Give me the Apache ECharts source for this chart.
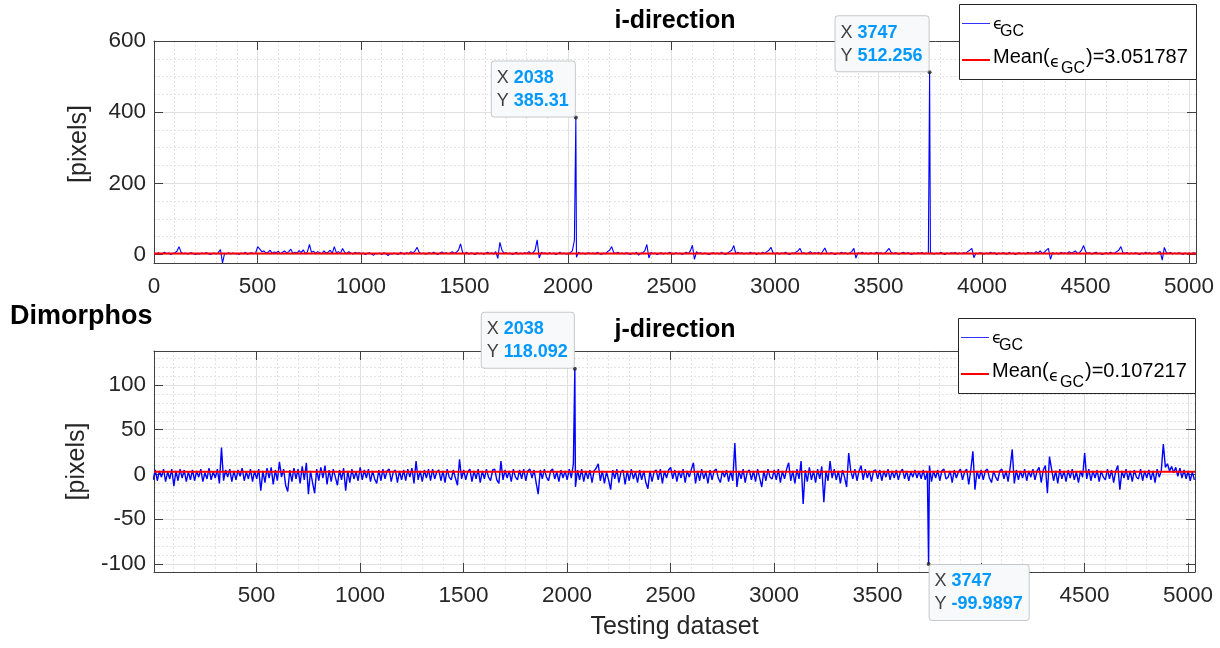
<!DOCTYPE html>
<html>
<head>
<meta charset="utf-8">
<script src="https://cdn.jsdelivr.net/npm/echarts@6/dist/echarts.min.js"></script>
<style>html,body{margin:0;padding:0;background:#fff}#c{width:1220px;height:648px}</style>
</head>
<body>
<div id="c"></div>
<script>
// ---- data ----
// samples are shown every 10th index, starting at 1
const sampleStart = 1;
const sampleStep = 10;

// i-direction error samples (pixels)
const iValues = [
  4,2,5,1,3,6,2,4,0,3, 5,9,22,6,2,4,1,3,5,2, 0,3,1,4,2,5,3,0,2,4, 1,6,14,-24,3,2,5,1,4,2, 3,0,4,2,6,1,3,5,2,4,
  22,15,8,10,4,6,12,3,7,5, 9,2,6,10,4,8,15,3,6,4, 11,5,13,2,7,28,6,9,3,8, 5,2,10,4,6,12,3,22,5,8, 3,17,6,2,8,4,1,6,3,5,
  2,4,0,3,5,1,-2,3,2,4, 0,5,2,-3,3,1,4,2,0,6, 3,1,5,2,8,4,10,20,6,2, 4,1,3,5,2,6,3,0,4,7, 3,5,2,4,8,3,6,12,30,5,
  2,6,1,4,3,0,5,2,4,1, 3,6,2,5,1,8,-11,34,12,3, 5,2,4,0,3,6,1,4,2,5, 3,8,2,5,12,41,-10,6,3,4, 1,5,2,4,0,3,6,2,4,1,
  3,5,10,40,-8,6,2,4,1,3, 5,2,4,1,6,3,0,4,2,8, 12,22,5,3,6,2,4,1,5,3, 0,4,2,6,-2,3,5,10,28,-10, 6,2,4,0,3,5,1,4,2,6,
  3,1,5,2,4,0,3,6,2,10, 26,-14,8,3,5,1,4,2,0,3, 5,2,4,1,6,3,0,4,8,12, 25,2,6,3,5,1,4,2,6,3, 5,0,4,2,6,3,8,12,20,4,
  2,5,1,4,3,6,2,0,4,3, 6,10,17,3,5,1,4,8,2,5, 3,6,1,9,18,4,2,5,3,0, 4,2,6,3,5,1,4,8,17,-10, 5,3,6,2,4,1,5,3,2,6,
  3,5,2,4,10,17,6,2,5,3, 1,4,6,2,5,3,0,4,2,5, 3,6,1,4,2,5,3,1,4,2, 6,3,0,4,2,5,3,6,1,4, 2,5,3,8,12,17,-9,4,2,5,
  3,1,4,2,6,3,5,0,4,2, 5,3,1,6,2,4,0,3,5,2, 4,1,6,3,5,2,8,4,10,3, 6,12,17,-14,5,2,4,1,6,3, 5,2,8,4,6,10,3,5,12,25,
  8,3,5,1,4,6,2,4,0,3, 5,2,6,3,4,8,12,22,5,3, 6,1,4,2,5,3,0,4,2,6, 3,5,1,4,2,6,8,-16,20,5, 3,6,1,4,2,5,3,0,4,2,
  4,1,5,3
];

// j-direction error samples (pixels)
const jValues = [
  -6,5,-7,4,-3,6,-8,3,-5,6, -13,4,-7,6,-4,5,-8,3,-6,5, -7,4,-3,6,-8,2,-5,7,-6,3, -4,6,-10,30,-7,5,-3,6,-8,4, -6,5,-2,7,-7,3,-5,6,-8,4,
  -5,6,-18,4,-9,7,-4,8,-11,5, -7,14,-3,6,-12,-19,5,-8,7,-5, 6,-10,9,-6,13,-22,4,-9,-21,6, -7,8,-4,10,-11,5,-8,6,-3,-12, 5,-6,7,-18,4,-9,6,-5,3,-7,
  8,-6,5,-4,6,-8,4,-5,-10,5, -7,6,-5,4,6,-8,3,5,-9,4, -6,5,-7,6,-3,7,-10,15,-6,4, -8,5,-4,6,-7,6,-5,3,5,-7, 4,-9,6,-3,-6,5,-4,-12,17,-5,
  5,-6,3,6,-8,4,-5,6,-9,4, -5,6,-3,-7,5,6,-6,-10,15,-6, 5,-4,4,-8,6,-3,-6,5,-5,6, -7,4,6,-4,5,-9,-22,5,-5,6, -3,-7,4,6,-5,3,-8,5,-4,4,
  -6,6,-4,12,-14,5,-6,6,-8,4, -5,5,-9,4,7,12,-7,4,-10,3, -6,-17,5,-5,6,-9,3,5,-11,4, -7,6,-5,3,-9,5,-6,4,-9,-16, 4,-8,3,5,-6,6,-10,4,-4,5,
  8,-5,5,-8,4,-4,6,-9,4,-3, 6,13,-10,4,-7,6,-5,3,-10,5, -6,4,6,-4,-9,4,-3,5,-8,4, -7,35,-14,4,-5,6,-9,3,5,-6, 4,-8,6,-4,-14,4,-7,6,-3,-5,
  5,-6,6,-9,4,-5,6,13,-7,4, -10,6,-5,15,-33,5,-8,8,-6,4, -9,6,-5,9,-31,4,-7,15,-4,6, -6,4,-10,5,-3,-14,24,4,-5,6, -7,4,10,-6,6,-4,4,-8,4,5,
  -5,5,-7,4,-3,6,-6,4,-4,5, -6,3,6,-5,4,-7,3,-3,5,-4, 4,-5,5,-6,3,10,-8,4,-4,5, -7,4,6,-5,-3,4,-9,5,-4,3, 6,-6,3,6,-11,5,26,-17,4,-5,
  5,-6,4,6,-4,-9,4,-3,-7,4, 6,-5,4,-8,8,28,-10,5,-6,4, -4,6,-7,4,-3,6,-6,4,8,-9, 5,10,-21,20,6,-7,4,-10,6,-5, 4,-8,5,-4,6,-6,3,-9,4,-3,
  24,-5,6,-7,4,-4,5,-8,4,-3, -6,6,-5,5,-9,4,10,-17,4,-4, 6,-6,4,-8,5,-3,-5,6,-7,4, -4,5,-6,4,-9,6,-3,4,34,8, 12,4,9,2,8,-2,7,-4,5,-5,
  4,-7,3,-6
];

// marked samples (data tips)
const peakX = [2038, 3747];
const iPeakY = [385.31, 512.256];
const jPeakY = [118.092, -99.9897];

// means shown in the legends
const iMean = 3.051787;
const jMean = 0.107217;
// level at which the red line is drawn in the lower panel (as seen in the picture)
const jMeanLineLevel = 3.051787;

// axis ranges
const topX = [0, 5034], topY = [-24, 600];
const botX = [5, 5034], botY = [-109, 138];

// ---- build ----
function build(vals, peaks) {
  const pts = vals.map((v, i) => [sampleStart + i * sampleStep, v]);
  peakX.forEach((x, k) => pts.push([x, peaks[k]]));
  pts.sort((a, b) => a[0] - b[0]);
  return pts;
}
const iData = build(iValues, iPeakY);
const jData = build(jValues, jPeakY);

const FONT = "'Liberation Sans', Arial, Helvetica, sans-serif";
const EPSFONT = "'DejaVu Sans', 'Noto Sans', sans-serif";
const AX = '#404040', TXT = '#262626', GRID = '#e0e0e0', MINOR = '#e3e3e3';

function xA(grid, rng, pos, main, showMin, name) {
  return {
    type: 'value', gridIndex: grid, min: rng[0], max: rng[1], position: pos,
    minInterval: 500, maxInterval: 500, splitNumber: 10, z: 0,
    axisLine: { show: true, onZero: false, lineStyle: { color: AX, width: 1 } },
    axisTick: { show: true, inside: true, length: 9, lineStyle: { color: AX } },
    axisLabel: { show: main, fontSize: 22.5, color: TXT, fontFamily: FONT, margin: 12,
      showMinLabel: showMin, showMaxLabel: false, formatter: v => String(v) },
    splitLine: { show: main, lineStyle: { color: GRID, width: 1 } },
    minorTick: { show: false, splitNumber: 5 },
    minorSplitLine: { show: main, lineStyle: { color: MINOR, width: 1, type: [2, 2] } },
    name: name || '', nameLocation: 'middle', nameGap: 43,
    nameTextStyle: { fontSize: 25, color: TXT, fontFamily: FONT }
  };
}
function yA(grid, rng, pos, main, step, minorN, showMax, name, gap, pad) {
  return {
    type: 'value', gridIndex: grid, min: rng[0], max: rng[1], position: pos,
    minInterval: step, maxInterval: step, splitNumber: 4, z: 0,
    axisLine: { show: true, onZero: false, lineStyle: { color: AX, width: 1 } },
    axisTick: { show: true, inside: true, length: 9, lineStyle: { color: AX } },
    axisLabel: { show: main, fontSize: 22.5, color: TXT, fontFamily: FONT, margin: 8,
      showMinLabel: false, showMaxLabel: showMax, formatter: v => String(v) },
    splitLine: { show: main, lineStyle: { color: GRID, width: 1 } },
    minorTick: { show: false, splitNumber: minorN },
    minorSplitLine: { show: main, lineStyle: { color: MINOR, width: 1, type: [2, 2] } },
    name: name || '', nameLocation: 'middle', nameGap: gap || 60,
    nameTextStyle: { fontSize: 25, color: TXT, fontFamily: FONT, padding: pad || 0 }
  };
}

function txt(x, y, s, size, fam, weight) {
  return { type: 'text', z: 102, x, y, style: { text: s, fill: '#000', fontSize: size,
    fontFamily: fam || FONT, fontWeight: weight || 'normal', align: 'left', verticalAlign: 'middle' } };
}
function legendEls(x0, y0, meanText) {
  return [
    { type: 'rect', z: 100, shape: { x: x0 + 0.5, y: y0 + 0.5, width: 237, height: 75 },
      style: { fill: '#fff', stroke: '#262626', lineWidth: 1 } },
    { type: 'line', z: 101, shape: { x1: x0 + 3, y1: y0 + 19.5, x2: x0 + 31, y2: y0 + 19.5 },
      style: { stroke: '#3333ff', lineWidth: 1 } },
    { type: 'line', z: 101, shape: { x1: x0 + 3, y1: y0 + 56, x2: x0 + 31, y2: y0 + 56 },
      style: { stroke: '#ff0000', lineWidth: 2 } },
    txt(x0 + 34, y0 + 21, 'ϵ', 16, EPSFONT),
    txt(x0 + 41, y0 + 28, 'GC', 16),
    txt(x0 + 34, y0 + 53, 'Mean(', 20),
    txt(x0 + 91, y0 + 59, 'ϵ', 16, EPSFONT),
    txt(x0 + 102, y0 + 65, 'GC', 16),
    txt(x0 + 127, y0 + 53, ')=' + meanText, 20)
  ];
}
function title(x, y, s, size, align) {
  return { type: 'text', z: 102, x, y, style: { text: s, fill: '#000', fontSize: size,
    fontFamily: FONT, fontWeight: 'bold', align: align || 'center', verticalAlign: 'middle' } };
}

const chart = echarts.init(document.getElementById('c'));
chart.setOption({
  animation: false,
  backgroundColor: '#ffffff',
  grid: [
    { left: 154, top: 41, width: 1042, height: 222, containLabel: false },
    { left: 154, top: 351, width: 1041, height: 221, containLabel: false }
  ],
  xAxis: [
    xA(0, topX, 'bottom', true, true),
    xA(0, topX, 'top', false, false),
    xA(1, botX, 'bottom', true, false, 'Testing dataset'),
    xA(1, botX, 'top', false, false)
  ],
  yAxis: [
    yA(0, topY, 'left', true, 200, 4, true, '[pixels]', 62, [0, 0, 0, 16]),
    yA(0, topY, 'right', false, 200, 4, false),
    yA(1, botY, 'left', true, 50, 5, false, '[pixels]', 57),
    yA(1, botY, 'right', false, 50, 5, false)
  ],
  series: [
    { type: 'line', xAxisIndex: 0, yAxisIndex: 0, data: iData, symbol: 'none', showSymbol: false,
      lineStyle: { color: '#0000ff', width: 1.1 }, itemStyle: { color: '#0000ff' }, z: 2, silent: true },
    { type: 'line', xAxisIndex: 0, yAxisIndex: 0, data: [[topX[0], iMean], [topX[1], iMean]], symbol: 'none',
      lineStyle: { color: '#ff0000', width: 2 }, itemStyle: { color: '#ff0000' }, z: 3, silent: true },
    { type: 'scatter', xAxisIndex: 0, yAxisIndex: 0, symbolSize: 4, itemStyle: { color: '#222' }, z: 10,
      data: peakX.map((x, k) => [x, iPeakY[k]]) },

    { type: 'line', xAxisIndex: 2, yAxisIndex: 2, data: jData, symbol: 'none', showSymbol: false,
      lineStyle: { color: '#0000ff', width: 1.4 }, itemStyle: { color: '#0000ff' }, z: 2, silent: true },
    { type: 'line', xAxisIndex: 2, yAxisIndex: 2, data: [[botX[0], jMeanLineLevel], [botX[1], jMeanLineLevel]], symbol: 'none',
      lineStyle: { color: '#ff0000', width: 2 }, itemStyle: { color: '#ff0000' }, z: 3, silent: true },
    { type: 'scatter', xAxisIndex: 2, yAxisIndex: 2, symbolSize: 4, itemStyle: { color: '#222' }, z: 10,
      data: peakX.map((x, k) => [x, jPeakY[k]]) }
  ]
});

// data tips, anchored at the marked points through the chart's own scales
function tipEl(seriesIndex, x, y, dir) {
  const p = chart.convertToPixel({ seriesIndex }, [x, y]);
  const ul = dir === 'ul';
  return {
    type: 'text', z: 120,
    x: ul ? p[0] - 1 : p[0] + 1, y: ul ? p[1] - 1 : p[1] + 1,
    style: {
      text: `{k|X }{v|${x}}\n{k|Y }{v|${y}}`,
      align: ul ? 'right' : 'left', verticalAlign: ul ? 'bottom' : 'top',
      backgroundColor: '#f8f9fb', borderColor: '#c8c8c8', borderWidth: 1, borderRadius: 3,
      padding: [5, 6, 4, 5], lineHeight: 23,
      rich: {
        k: { fontSize: 18, fill: '#404040', fontFamily: FONT, lineHeight: 23, align: 'left' },
        v: { fontSize: 18, fontWeight: 'bold', fill: '#0099ff', fontFamily: FONT, lineHeight: 23, align: 'left' }
      }
    }
  };
}

chart.setOption({
  graphic: [
    title(675, 21, 'i-direction', 25),
    title(675, 330, 'j-direction', 25),
    title(10, 317, 'Dimorphos', 27, 'left'),
    ...legendEls(959, 4, iMean.toFixed(6)),
    ...legendEls(958, 318, jMean.toFixed(6)),
    tipEl(0, peakX[0], iPeakY[0], 'ul'),
    tipEl(0, peakX[1], iPeakY[1], 'ul'),
    tipEl(3, peakX[0], jPeakY[0], 'ul'),
    tipEl(3, peakX[1], jPeakY[1], 'dr')
  ]
});
</script>
</body>
</html>
